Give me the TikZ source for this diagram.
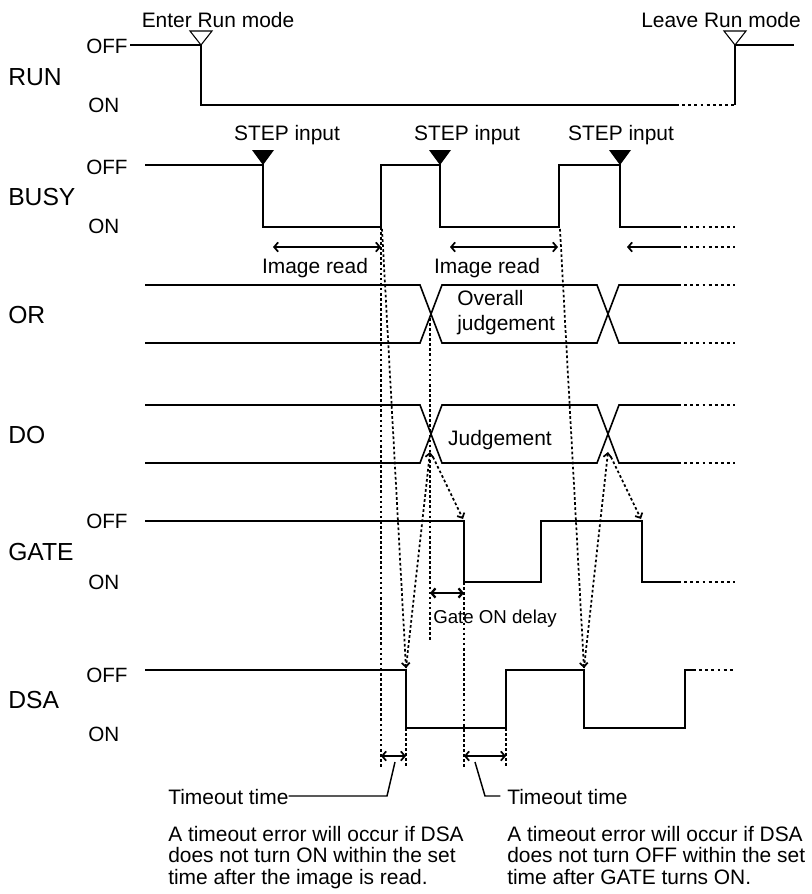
\documentclass[tikz,border=0pt]{standalone}
\usepackage{fontspec}
\setmainfont{Liberation Sans}
\usetikzlibrary{arrows.meta}
\tikzset{
  sig/.style={line width=1.5pt},
  thinsig/.style={line width=0.8pt},
  bus/.style={line width=1.2pt},
  cont/.style={line width=1.5pt, dash pattern=on 2.2pt off 2.4pt},
  guide/.style={line width=1.3pt, dash pattern=on 2pt off 1.8pt},
  cause/.style={line width=1.3pt, dash pattern=on 2pt off 1.8pt, ->, >={Straight Barb[length=3pt,width=6pt]}},
  span/.style={line width=1.3pt, <->, >={Straight Barb[length=3pt,width=7pt]}},
  leader/.style={line width=1.1pt},
  signame/.style={font=\fontsize{18.5}{20}\selectfont, anchor=base west, inner sep=0pt},
  lvl/.style={font=\fontsize{15.5}{18}\selectfont, anchor=base west, inner sep=0pt},
  txt/.style={font=\fontsize{15.7}{18}\selectfont, anchor=base, inner sep=0pt},
  smalltxt/.style={font=\fontsize{14}{16}\selectfont, anchor=base west, inner sep=0pt},
  note/.style={font=\fontsize{15.7}{16.1}\selectfont, anchor=north west, align=left, inner sep=0pt}
}

\begin{document}
\begin{tikzpicture}[x=0.75pt,y=-0.75pt]
  \path[use as bounding box, fill=white] (0,0) rectangle (812,894);

  % RUN
  \node[txt] (enter) at (218,27) {Enter Run mode};
  \node[txt] (leave) at (721,27) {Leave Run mode};
  \node[signame] (run) at (8,85) {RUN};
  \node[lvl] (runoff) at (86,53) {OFF};
  \node[lvl] (runon) at (88,112) {ON};
  \draw[thinsig] (130,45) -- (201,45);
  \draw[sig] (201,45) -- (201,105) -- (676,105);
  \draw[cont] (676,105) -- (735,105);
  \draw[sig] (735,105) -- (735,45);
  \draw[thinsig] (735,45) -- (794,45);
  \foreach \x in {201,735}
    \draw[thinsig, fill=white] ({\x-11},31) -- ({\x+11},31) -- (\x,45) -- cycle;

  % BUSY
  \node[signame] (busy) at (8,205) {BUSY};
  \node[lvl] (busyoff) at (86,174) {OFF};
  \node[lvl] (busyon) at (88,233) {ON};
  \draw[sig] (145,165) -- (263,165) -- (263,227) -- (381,227) -- (381,165) -- (440,165)
    -- (440,227) -- (559,227) -- (559,165) -- (620,165) -- (620,227) -- (678,227);
  \draw[cont] (678,227) -- (735,227);
  \foreach \x in {263,440,620}
    \fill ({\x-11},150) -- ({\x+11},150) -- (\x,165) -- cycle;
  \node[txt] (step1) at (287,140) {STEP input};
  \node[txt] (step2) at (467,140) {STEP input};
  \node[txt] (step3) at (621,140) {STEP input};
  \draw[span] (273,247) -- (381,247);
  \draw[span] (450,247) -- (558,247);
  \draw[span, ->] (678,247) -- (627,247);
  \draw[cont] (678,247) -- (735,247);
  \node[txt] (read1) at (315,273) {Image read};
  \node[txt] (read2) at (487,273) {Image read};

  % OR
  \node[signame] (or) at (8,323) {OR};
  \draw[bus] (145,285) -- (420,285) -- (442,343) -- (597,343) -- (619,285) -- (678,285);
  \draw[bus] (145,343) -- (420,343) -- (442,285) -- (597,285) -- (619,343) -- (678,343);
  \draw[cont] (678,285) -- (735,285);
  \draw[cont] (678,343) -- (735,343);
  \node[txt, anchor=base west] (overall) at (457,305) {Overall};
  \node[txt, anchor=base west] (ojudge) at (457,330) {judgement};

  % DO
  \node[signame] (do) at (8,443) {DO};
  \draw[bus] (145,405) -- (420,405) -- (442,463) -- (597,463) -- (619,405) -- (678,405);
  \draw[bus] (145,463) -- (420,463) -- (442,405) -- (597,405) -- (619,463) -- (678,463);
  \draw[cont] (678,405) -- (735,405);
  \draw[cont] (678,463) -- (735,463);
  \node[txt] (judge) at (500,445) {Judgement};

  % GATE
  \node[signame] (gate) at (8,560) {GATE};
  \node[lvl] (gateoff) at (86,528) {OFF};
  \node[lvl] (gateon) at (88,589) {ON};
  \draw[sig] (145,521) -- (464,521) -- (464,582) -- (541,582) -- (541,521) -- (642,521)
    -- (642,582) -- (678,582);
  \draw[cont] (678,582) -- (735,582);
  \draw[span, line width=1.7pt] (430,593) -- (464,593);
  \node[smalltxt] (gdelay) at (433,623) {Gate ON delay};

  % DSA
  \node[signame] (dsa) at (8,708) {DSA};
  \node[lvl] (dsaoff) at (86,682) {OFF};
  \node[lvl] (dsaon) at (88,741) {ON};
  \draw[sig] (145,670) -- (406,670) -- (406,728) -- (506,728) -- (506,670) -- (584,670)
    -- (584,728) -- (685,728) -- (685,670) -- (693,670);
  \draw[cont] (693,670) -- (735,670);

  % timing references
  \coordinate (busyup1) at (382,229);
  \coordinate (busyup2) at (560,229);
  \coordinate (dsadn1) at (406,668);
  \coordinate (dsadn2) at (584,668);
  \coordinate (doin1) at (430,452);
  \coordinate (doin2) at (608,452);
  \coordinate (doout1) at (433,457);
  \coordinate (doout2) at (611,457);
  \coordinate (gatedn1) at (463,519);
  \coordinate (gatedn2) at (641,519);

  \draw[guide] (381,227) -- (381,767);
  \draw[guide] (406,728) -- (406,767);
  \draw[guide] (430,318) -- (430,640);
  \draw[guide] (464,582) -- (464,767);
  \draw[guide] (506,728) -- (506,767);

  \draw[cause] (busyup1) -- (dsadn1);
  \draw[cause] (dsadn1) -- (doin1);
  \draw[cause] (doout1) -- (gatedn1);
  \draw[cause] (busyup2) -- (dsadn2);
  \draw[cause] (dsadn2) -- (doin2);
  \draw[cause] (doout2) -- (gatedn2);

  % timeouts
  \draw[span] (381,756) -- (406,756);
  \draw[span] (464,756) -- (506,756);
  \node[txt, anchor=base west] (tout1) at (168,804) {Timeout time};
  \node[txt, anchor=base west] (tout2) at (507,804) {Timeout time};
  \draw[leader] (395,762) -- (387,796) -- (tout1.east |- 0,796);
  \draw[leader] (475,762) -- (485,796) -- ([xshift=-5pt]tout2.west |- 0,796);
  \node[note] (note1) at (168,826) {A timeout error will occur if DSA\\does not turn ON within the set\\time after the image is read.};
  \node[note] (note2) at (507,826) {A timeout error will occur if DSA\\does not turn OFF within the set\\time after GATE turns ON.};
\end{tikzpicture}
\end{document}
